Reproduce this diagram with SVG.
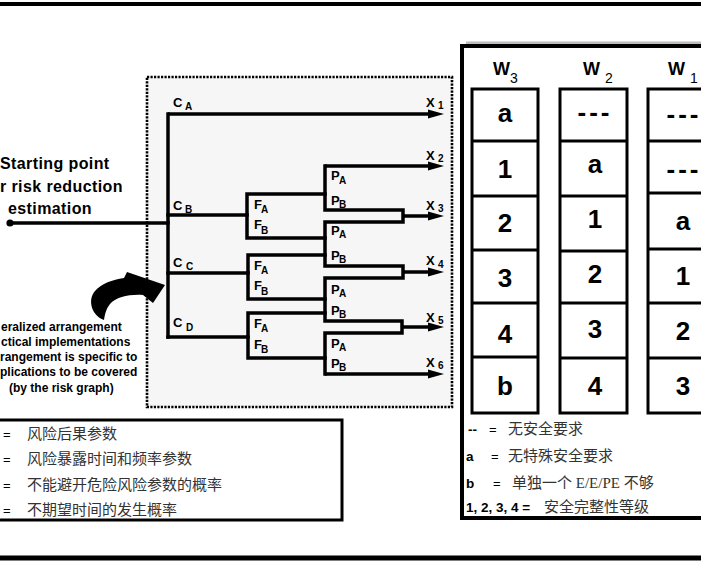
<svg xmlns="http://www.w3.org/2000/svg" width="701" height="565" viewBox="0 0 701 565">
<defs>
<marker id="ah" markerUnits="userSpaceOnUse" markerWidth="16" markerHeight="10" refX="8" refY="5" orient="auto"><path d="M0,0.6 L16,5 L0,9.4 Z" fill="#000"/></marker>
</defs>
<style>
.ln{stroke:#000;stroke-width:3.5;fill:none;stroke-linecap:square;stroke-linejoin:miter}
.ar{stroke:#000;stroke-width:3.5;fill:none;marker-end:url(#ah)}
.lb{font-family:"Liberation Sans",Arial,sans-serif;font-weight:bold;font-size:13px;fill:#000}
.sb{font-family:"Liberation Sans",Arial,sans-serif;font-weight:bold;font-size:10px;fill:#000}
.big{font-family:"Liberation Sans",Arial,sans-serif;font-weight:bold;font-size:16px;letter-spacing:0.4px;fill:#000}
.par{font-family:"Liberation Sans",Arial,sans-serif;font-weight:bold;font-size:12px;fill:#000}
.hd{font-family:"Liberation Sans",Arial,sans-serif;font-weight:bold;font-size:18px;fill:#000}
.hs{font-family:"Liberation Sans",Arial,sans-serif;font-size:14px;fill:#000}
.cell{font-family:"Liberation Sans",Arial,sans-serif;font-weight:bold;font-size:26px;text-anchor:middle;fill:#000}
.dash{letter-spacing:3px}
.col{fill:#fff;stroke:#000;stroke-width:3}
.eq{font-family:"Liberation Sans",Arial,sans-serif;font-size:13px;fill:#000}
.kb{font-family:"Liberation Sans",Arial,sans-serif;font-weight:bold;font-size:13.5px;fill:#000}
.cn{font-family:"Liberation Serif","Noto Sans CJK SC",serif;font-size:15px;fill:#333}
</style>
<rect x="0" y="0" width="701" height="565" fill="#fff"/>
<g id="frame">
<line x1="0" y1="4" x2="701" y2="4" stroke="#000" stroke-width="4"/>
<line x1="0" y1="558" x2="701" y2="558" stroke="#000" stroke-width="5"/>
</g>
<g id="graph-area">
<rect x="147" y="77" width="305" height="330" fill="#f6f6f6" stroke="#000" stroke-width="2.6" stroke-dasharray="2.2 1.3"/>
</g>
<g id="start-node">
<circle cx="10" cy="223" r="3.6" fill="#000"/>
<text class="big" x="0" y="169">Starting point</text>
<text class="big" x="0" y="192">r risk reduction</text>
<text class="big" x="8" y="214">estimation</text>
</g>
<g id="note">
<text class="par" x="1" y="331">eralized arrangement</text>
<text class="par" x="1" y="346">ctical implementations</text>
<text class="par" x="0" y="361">rangement is specific to</text>
<text class="par" x="0" y="376">plications to be covered</text>
<text class="par" x="9" y="392">(by the risk graph)</text>
<path d="M104,320 C92,316 87,300 95,291 C102,283 112,280 124,278 L127,272 L165,285 L153,303 L143,295 C130,294 116,297 110,304 C106,309 105,314 104,320 Z" fill="#000"/>
</g>
<g id="connectors">
<path class="ln" d="M10,223 H168"/>
<path class="ln" d="M168,114 V337"/>
<path class="ar" d="M168,114 H436"/>
<path class="ln" d="M168,215 H247"/>
<path class="ln" d="M168,273 H248"/>
<path class="ln" d="M168,337 H248"/>
<path class="ln" d="M325,194 H247 V238 H325"/>
<path class="ln" d="M325,255 H248 V299 H325"/>
<path class="ln" d="M325,313 H248 V358 H325"/>
<path class="ln" d="M325,166 V210 H403 V222 H325 V266 H403 V278 H325 V321 H402 V333 H325 V374"/>
<path class="ar" d="M325,166 H436"/>
<path class="ar" d="M403,216 H436"/>
<path class="ar" d="M403,272 H436"/>
<path class="ar" d="M402,327 H436"/>
<path class="ar" d="M325,374 H436"/>
</g>
<g id="c-nodes">
<text class="lb" x="173" y="107">C</text><text class="sb" x="185" y="110">A</text>
<text class="lb" x="173" y="210">C</text><text class="sb" x="185" y="213">B</text>
<text class="lb" x="173" y="267">C</text><text class="sb" x="186" y="270">C</text>
<text class="lb" x="173" y="327">C</text><text class="sb" x="186" y="331">D</text>
</g>
<g id="f-nodes">
<text class="lb" x="254" y="209">F</text><text class="sb" x="261" y="213">A</text>
<text class="lb" x="254" y="229">F</text><text class="sb" x="261" y="234">B</text>
<text class="lb" x="254" y="270">F</text><text class="sb" x="261" y="274">A</text>
<text class="lb" x="254" y="290">F</text><text class="sb" x="261" y="295">B</text>
<text class="lb" x="254" y="328">F</text><text class="sb" x="261" y="332">A</text>
<text class="lb" x="254" y="349">F</text><text class="sb" x="261" y="353">B</text>
</g>
<g id="p-nodes">
<text class="lb" x="331" y="180">P</text><text class="sb" x="339" y="184">A</text>
<text class="lb" x="331" y="205">P</text><text class="sb" x="339" y="208">B</text>
<text class="lb" x="331" y="235">P</text><text class="sb" x="339" y="238">A</text>
<text class="lb" x="331" y="260">P</text><text class="sb" x="339" y="263">B</text>
<text class="lb" x="331" y="294">P</text><text class="sb" x="339" y="297">A</text>
<text class="lb" x="331" y="315">P</text><text class="sb" x="339" y="318">B</text>
<text class="lb" x="331" y="348">P</text><text class="sb" x="339" y="351">A</text>
<text class="lb" x="331" y="368">P</text><text class="sb" x="339" y="371">B</text>
</g>
<g id="x-nodes">
<text class="lb" x="426" y="107">X</text><text class="sb" x="438" y="109">1</text>
<text class="lb" x="426" y="160">X</text><text class="sb" x="438" y="162">2</text>
<text class="lb" x="426" y="210">X</text><text class="sb" x="438" y="212">3</text>
<text class="lb" x="426" y="265">X</text><text class="sb" x="438" y="268">4</text>
<text class="lb" x="426" y="322">X</text><text class="sb" x="438" y="324">5</text>
<text class="lb" x="426" y="367">X</text><text class="sb" x="438" y="369">6</text>
</g>
<g id="w-table">
<line x1="466" y1="43" x2="701" y2="43" stroke="#bdbdbd" stroke-width="3"/>
<rect x="462" y="46" width="260" height="472" fill="#fff" stroke="#000" stroke-width="4"/>
<g id="w3">
<text class="hd" x="493" y="75">W</text><text class="hs" x="510" y="83">3</text>
<rect class="col" x="472" y="89" width="66" height="324"/>
<path d="M472,141 H538 M472,196 H538 M472,250 H538 M472,303 H538 M472,357 H538" stroke="#000" stroke-width="3"/>
<text class="cell" x="505" y="122">a</text>
<text class="cell" x="505" y="178">1</text>
<text class="cell" x="505" y="232">2</text>
<text class="cell" x="505" y="287">3</text>
<text class="cell" x="505" y="343">4</text>
<text class="cell" x="505" y="395">b</text>
</g>
<g id="w2">
<text class="hd" x="583" y="75">W</text><text class="hs" x="605" y="83">2</text>
<rect class="col" x="560" y="89" width="67" height="324"/>
<path d="M560,141 H627 M560,196 H627 M560,251 H627 M560,303 H627 M560,358 H627" stroke="#000" stroke-width="3"/>
<text class="cell dash" x="595" y="121">---</text>
<text class="cell" x="595" y="173">a</text>
<text class="cell" x="595" y="228">1</text>
<text class="cell" x="595" y="283">2</text>
<text class="cell" x="595" y="338">3</text>
<text class="cell" x="595" y="395">4</text>
</g>
<g id="w1">
<text class="hd" x="668" y="75">W</text><text class="hs" x="690" y="83">1</text>
<rect class="col" x="648" y="89" width="80" height="324"/>
<path d="M648,141 H728 M648,193 H728 M648,249 H728 M648,303 H728 M648,358 H728" stroke="#000" stroke-width="3"/>
<text class="cell dash" x="684" y="123">---</text>
<text class="cell dash" x="684" y="178">---</text>
<text class="cell" x="683" y="230">a</text>
<text class="cell" x="683" y="285">1</text>
<text class="cell" x="683" y="340">2</text>
<text class="cell" x="683" y="395">3</text>
</g>
<g id="w-legend">
<text class="kb" x="468" y="434">--</text><text class="eq" x="489" y="434">=</text><text class="cn" x="508" y="434">无安全要求</text>
<text class="kb" x="466" y="461">a</text><text class="eq" x="491" y="461">=</text><text class="cn" x="508" y="461">无特殊安全要求</text>
<text class="kb" x="466" y="488">b</text><text class="eq" x="493" y="488">=</text><text class="cn" x="512" y="488">单独一个 E/E/PE 不够</text>
<text class="kb" x="466" y="512">1, 2, 3, 4 =</text><text class="cn" x="544" y="512">安全完整性等级</text>
</g>
</g>
<g id="param-legend">
<rect x="-5" y="420" width="347" height="100" fill="#fff" stroke="#000" stroke-width="3"/>
<text class="eq" x="3" y="439">=</text><text class="cn" x="27" y="439">风险后果参数</text>
<text class="eq" x="3" y="464">=</text><text class="cn" x="27" y="464">风险暴露时间和频率参数</text>
<text class="eq" x="3" y="490">=</text><text class="cn" x="27" y="490">不能避开危险风险参数的概率</text>
<text class="eq" x="3" y="515">=</text><text class="cn" x="27" y="515">不期望时间的发生概率</text>
</g>
</svg>
